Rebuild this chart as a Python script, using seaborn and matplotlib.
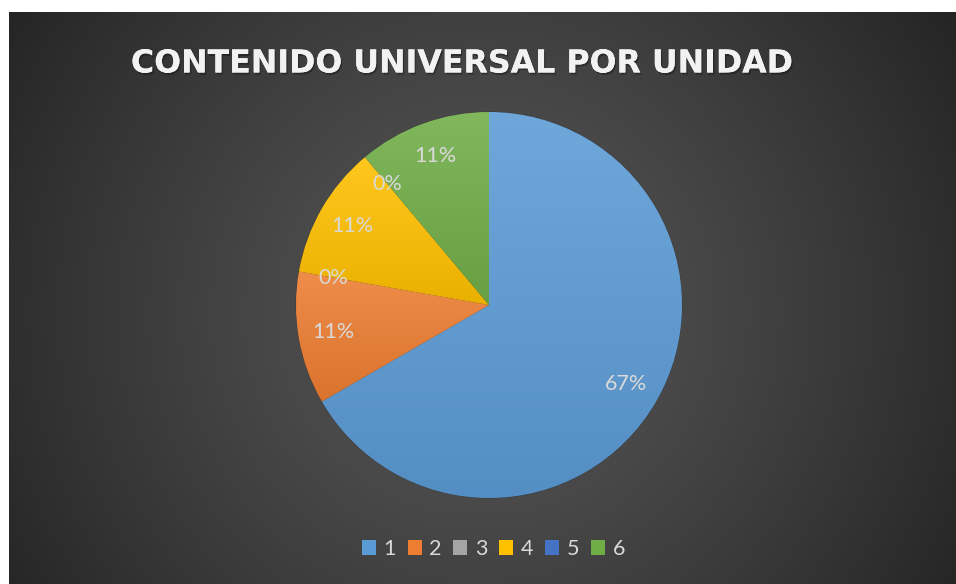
import numpy as np
import matplotlib
import matplotlib.pyplot as plt
import matplotlib.patheffects as pe
from matplotlib.patches import Patch
from matplotlib.colors import to_rgb
import seaborn as sns


matplotlib.use('Agg')

# Chart data
units = ['1', '2', '3', '4', '5', '6']
counts = [6, 1, 0, 1, 0, 1]
title = 'CONTENIDO UNIVERSAL POR UNIDAD'
colors = ['#5b9bd5', '#ed7d31', '#a5a5a5', '#ffc000', '#4472c4', '#70ad47']

W, H = 956, 584


def radial_background(fig):
    # dark chart area with a radial gradient, white strip top/left
    w, h = W - 9, H - 12
    ax_bg = fig.add_axes([9 / W, 0, w / W, h / H], zorder=-10)
    yy, xx = np.mgrid[0:h, 0:w]
    cx, cy = 470, 300
    r = np.hypot(xx - cx, yy - cy) / np.hypot(cx, cy)
    shade = (0x57 - (0x57 - 0x25) * np.clip(r, 0, 1) ** 1.2) / 255
    ax_bg.imshow(np.dstack([shade] * 3), aspect='auto', interpolation='bilinear')
    ax_bg.axis('off')


def shade_wedges(ax, wedges):
    # light-to-dark vertical gradient inside every slice
    t = np.linspace(0, 1, 128)[:, None]
    for wedge, c in zip(wedges, colors):
        if abs(wedge.theta2 - wedge.theta1) < 1e-6:
            continue
        base = np.array(to_rgb(c))
        top = np.clip(base * 0.88 + 0.12, 0, 1)
        bottom = base * 0.92
        grad = (top * (1 - t) + bottom * t)[:, None, :]
        ext = wedge.get_path().get_extents()
        im = ax.imshow(grad, extent=(ext.x0, ext.x1, ext.y0, ext.y1),
                       aspect='auto', interpolation='bilinear', zorder=1.5)
        im.set_clip_path(wedge)


def plot_pie(output_plot):
    sns.set_style('dark')
    plt.rcParams['font.family'] = ['Lato', 'DejaVu Sans']

    fig = plt.figure(figsize=(W / 100, H / 100), dpi=100, facecolor='white')
    radial_background(fig)

    # pie centred at (489, 305) px, radius 193 px
    half = 195
    ax = fig.add_axes([(489 - half) / W, (H - 305 - half) / H, 2 * half / W, 2 * half / H])
    wedges, _, pct = ax.pie(counts, colors=sns.color_palette(colors), startangle=90,
                            counterclock=False, autopct='%1.0f%%', pctdistance=0.82,
                            wedgeprops=dict(edgecolor='#3c3c3c', linewidth=0.7),
                            textprops=dict(color='#d9d9d9', fontsize=15.5, family='Lato'))
    shade_wedges(ax, wedges)
    lim = half / 193
    ax.set_xlim(-lim, lim)
    ax.set_ylim(-lim, lim)
    ax.set_aspect('equal')
    ax.axis('off')

    fig.text(461.5 / W, 1 - 64 / H, title, ha='center', va='center',
             fontsize=22.8, fontweight='bold', family='DejaVu Sans', color='#f2f2f2',
             path_effects=[pe.withSimplePatchShadow(offset=(1, -1.5),
                                                    shadow_rgbFace='black', alpha=0.3),
                           pe.Normal()])

    handles = [Patch(facecolor=c, edgecolor='none') for c in colors]
    fig.legend(handles, units, loc='center', bbox_to_anchor=(493.5 / W, 1 - 549 / H),
               ncol=6, frameon=False, labelcolor='#d9d9d9',
               prop={'family': 'Lato', 'size': 15.5},
               handlelength=0.65, handleheight=0.65, handletextpad=0.35,
               columnspacing=0.55)

    plt.savefig(output_plot, dpi=100, facecolor='white')
    plt.close()


if __name__ == "__main__":
    plot_pie('out.png')
